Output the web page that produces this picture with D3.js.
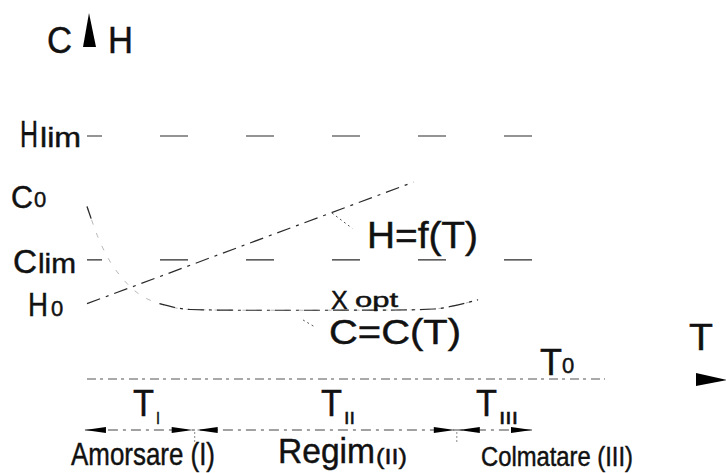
<!DOCTYPE html>
<html>
<head>
<meta charset="utf-8">
<script src="https://cdn.jsdelivr.net/npm/d3@7"></script>
<style>
  html, body { margin: 0; padding: 0; background: #fff; }
  svg { display: block; }
  text { font-family: "Liberation Sans", Arial, sans-serif; fill: #111; stroke: #111; stroke-width: 0.45px; }
</style>
</head>
<body>
<script>
// Filter operating diagram: head loss H and concentration C versus filtering time T

// Reference levels on the vertical axis (value units)
const levelNames = ["Hlim", "Clim"];
const levelValues = [100, 49];
const levelEnds = [86, 87];          // T where each guide line stops

// Head loss H = f(T): straight rise from H0
const hT = [0, 63];
const hV = [31, 81];

// Effluent concentration C = C(T): drops from C0 to X opt, then rises at the end
const cT = [0, 0.8, 2, 4, 7, 10, 14, 20, 30, 45, 60, 67, 71, 75.5];
const cV = [71, 66, 59, 50, 41, 35, 31, 28.6, 28.3, 28.3, 28.4, 28.8, 30.2, 32.6];
const cFaintUntil = 13;              // the steep initial drop is drawn faint

// Short leader strokes from the curves towards their labels
const hLeaderT = [47.3, 51.2], hLeaderV = [68.3, 62];
const cLeaderT = [41.7, 44.0], cLeaderV = [24.3, 21.4];

// Filter cycle phases along T
const phaseBounds = [-0.4, 20.6, 71.2, 86.1];
const phaseNames = ["Amorsare (I)", "Regim", "Colmatare (III)"];
const phaseSymbols = ["I", "II", "III"];
const axisEndT = 100;

const W = 726, H = 473;
const svg = d3.select("body").append("svg").attr("width", W).attr("height", H);

const x = d3.scaleLinear().domain([0, 100]).range([87, 605]);
const y = d3.scaleLinear().domain([0, 100]).range([379, 136]);

const ink = "#2a2a2a";

function label(txt, px, py, size, len) {
  const t = svg.append("text").attr("x", px).attr("y", py)
    .attr("font-size", size).text(txt);
  if (len) t.attr("textLength", len).attr("lengthAdjust", "spacingAndGlyphs");
  return t;
}

function tri(points) {
  svg.append("path").attr("d", "M" + points.map(p => p.join(",")).join("L") + "Z")
    .attr("fill", "#000");
}

// ---- axes ----
// vertical axis arrow head (C / H)
tri([[89, 13], [83, 47], [96, 47]]);
label("C", 47, 53, 36, 25);
label("H", 108, 53, 36, 25);

// time axis (T0 line) and its arrow
svg.append("line")
  .attr("x1", x(0)).attr("x2", x(axisEndT))
  .attr("y1", y(0)).attr("y2", y(0))
  .attr("stroke", "#555").attr("stroke-width", 1.1)
  .attr("stroke-dasharray", "9,4,3,5");
tri([[696, 373], [727, 380], [696, 386]]);
label("T", 689, 350, 37, 24);
label("T", 540, 375, 37, 22);
label("0", 562, 373, 22);

// ---- horizontal limit guides ----
levelNames.forEach((n, i) => {
  svg.append("line")
    .attr("x1", x(0)).attr("x2", x(levelEnds[i]))
    .attr("y1", y(levelValues[i])).attr("y2", y(levelValues[i]))
    .attr("stroke", ink).attr("stroke-width", 1.2)
    .attr("stroke-dasharray", "28,58").attr("stroke-dashoffset", 13);
});

// level labels on the left
label("H", 20, 147, 37, 18);
label("lim", 40, 147, 28, 41);
label("C", 11, 208, 31, 22);
label("0", 34, 207, 22);
label("C", 13, 273, 34, 24);
label("lim", 38, 273, 27, 38);
label("H", 28, 316, 34, 20);
label("0", 51, 316, 22);

// ---- H = f(T) ----
const lineGen = d3.line().x(d => x(d[0])).y(d => y(d[1]));
svg.append("path")
  .attr("d", lineGen(hT.map((t, i) => [t, hV[i]])))
  .attr("fill", "none").attr("stroke", ink).attr("stroke-width", 1.2)
  .attr("stroke-dasharray", "14,6,3,6");
svg.append("path")
  .attr("d", lineGen(hLeaderT.map((t, i) => [t, hLeaderV[i]])))
  .attr("fill", "none").attr("stroke", "#555").attr("stroke-width", 1)
  .attr("stroke-dasharray", "2,3");
label("H=f(T)", 367, 248, 36, 111);

// ---- C = C(T) ----
const curveGen = d3.line().x(d => x(d[0])).y(d => y(d[1])).curve(d3.curveMonotoneX);
const cPts = cT.map((t, i) => [t, cV[i]]);
// faint full curve, then the plateau and end rise drawn over it
svg.append("path")
  .attr("d", curveGen(cPts))
  .attr("fill", "none").attr("stroke", "#b8b8b8").attr("stroke-width", 1)
  .attr("stroke-dasharray", "5,9");
svg.append("path")
  .attr("d", curveGen(cPts.filter(p => p[0] >= cFaintUntil)))
  .attr("fill", "none").attr("stroke", ink).attr("stroke-width", 1.2)
  .attr("stroke-dasharray", "16,5,3,5");
svg.append("path")
  .attr("d", lineGen(cPts.slice(0, 2)))
  .attr("fill", "none").attr("stroke", ink).attr("stroke-width", 1.3);
svg.append("path")
  .attr("d", lineGen(cLeaderT.map((t, i) => [t, cLeaderV[i]])))
  .attr("fill", "none").attr("stroke", "#555").attr("stroke-width", 1)
  .attr("stroke-dasharray", "2,3");
label("X", 331, 309, 25);
label("opt", 355, 307, 20, 43);
label("C=C(T)", 329, 344, 35, 132);

// ---- phase dimension line ----
const dimY = 430;
svg.append("line")
  .attr("x1", x(phaseBounds[0])).attr("x2", x(phaseBounds[3]))
  .attr("y1", dimY).attr("y2", dimY)
  .attr("stroke", "#444").attr("stroke-width", 1.1)
  .attr("stroke-dasharray", "10,5,3,5");

function arrowHead(tipX, dir) {
  const len = 21, half = 3;
  tri([[tipX, dimY], [tipX - dir * len, dimY - half], [tipX - dir * len, dimY + half]]);
}
for (let i = 0; i < 3; i++) {
  arrowHead(x(phaseBounds[i]) + (i === 0 ? 0 : 3), -1);
  arrowHead(x(phaseBounds[i + 1]) - 1, 1);
}
[1, 2].forEach(i => {
  svg.append("line")
    .attr("x1", x(phaseBounds[i]) + 1).attr("x2", x(phaseBounds[i]) + 1)
    .attr("y1", dimY + 2).attr("y2", dimY + 13)
    .attr("stroke", "#888").attr("stroke-width", 1)
    .attr("stroke-dasharray", "2,2");
});

// period symbols T_I, T_II, T_III
const symX = [133, 321, 476];
const symLen = [4, 11, 19];
phaseSymbols.forEach((s, i) => {
  label("T", symX[i], 416, 37, 21);
  label(s, symX[i] + 23, 424, 17, symLen[i]);
});

// phase names
label(phaseNames[0], 71, 465, 32, 144);
label(phaseNames[1], 278, 463, 35, 97);
label("(II)", 376, 464, 22, 31);
label(phaseNames[2], 481, 466, 27, 152);
</script>
</body>
</html>
